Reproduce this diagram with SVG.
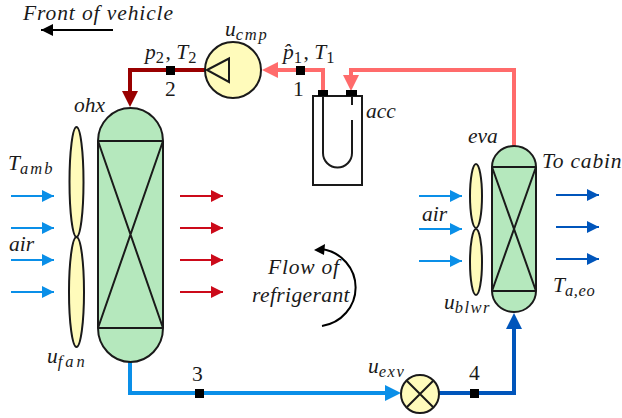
<svg xmlns="http://www.w3.org/2000/svg" width="622" height="418" viewBox="0 0 622 418">
<style>
text{font-family:"Liberation Serif","Times New Roman",serif;font-style:italic;font-size:21.5px;fill:#1a1a1a}
.n{font-style:normal}
.s{font-size:16.500px;letter-spacing:1.500px}
.o{stroke:#1a1a1a;stroke-width:2;fill:none}
.hx{fill:#b5e8bd;stroke:#1a1a1a;stroke-width:2}
.y{fill:#fffbbb;stroke:#1a1a1a;stroke-width:2}
.pipe{fill:none;stroke-width:4}
.thin{stroke-width:2;fill:none}
</style>
<defs>
<marker id="ab" markerUnits="userSpaceOnUse" markerWidth="12" markerHeight="12" refX="12" refY="6" orient="auto"><path d="M0 0L12 6L0 12Z" fill="#0a8fe8"/></marker>
<marker id="ar" markerUnits="userSpaceOnUse" markerWidth="12" markerHeight="12" refX="12" refY="6" orient="auto"><path d="M0 0L12 6L0 12Z" fill="#cc0a1a"/></marker>
<marker id="ad" markerUnits="userSpaceOnUse" markerWidth="12" markerHeight="12" refX="12" refY="6" orient="auto"><path d="M0 0L12 6L0 12Z" fill="#0055bb"/></marker>
<marker id="ak" markerUnits="userSpaceOnUse" markerWidth="12" markerHeight="12" refX="12" refY="6" orient="auto"><path d="M0 0L12 6L0 12Z" fill="#000"/></marker>
</defs>
<g id="connectors">
<path class="pipe" d="M207 70H130V92" stroke="#990000"/>
<path d="M122 91H138L130 107Z" fill="#990000"/>
<path class="pipe" d="M278 70H323V94" stroke="#ff6b6b"/>
<path d="M278 62V78L262 70Z" fill="#ff6b6b"/>
<path class="pipe" d="M514 146V70H351V76" stroke="#ff6b6b"/>
<path d="M343 75H359L351 91Z" fill="#ff6b6b"/>
<path class="pipe" d="M130 362V393H386" stroke="#0a8fe8"/>
<path d="M385 385V401L401 393Z" fill="#0a8fe8"/>
<path class="pipe" d="M439 393H514V328" stroke="#0055bb"/>
<path d="M506 329H522L514 313Z" fill="#0055bb"/>
<g fill="#000">
<rect x="166" y="66" width="9" height="9"/><rect x="296" y="66" width="9" height="9"/>
<rect x="195" y="389" width="9" height="9"/><rect x="470" y="389" width="9" height="9"/>
</g>
<g class="thin" stroke="#0a8fe8">
<path d="M11 196H54" marker-end="url(#ab)"/><path d="M11 228H54" marker-end="url(#ab)"/><path d="M11 260H54" marker-end="url(#ab)"/><path d="M11 292H54" marker-end="url(#ab)"/>
<path d="M419 196H462" marker-end="url(#ab)"/><path d="M419 229H462" marker-end="url(#ab)"/><path d="M419 261H462" marker-end="url(#ab)"/>
</g>
<g class="thin" stroke="#cc0a1a">
<path d="M180 196H223" marker-end="url(#ar)"/><path d="M180 228H223" marker-end="url(#ar)"/><path d="M180 260H223" marker-end="url(#ar)"/><path d="M180 292H223" marker-end="url(#ar)"/>
</g>
<g class="thin" stroke="#0055bb">
<path d="M556 195H599" marker-end="url(#ad)"/><path d="M556 227H599" marker-end="url(#ad)"/><path d="M556 259H599" marker-end="url(#ad)"/>
</g>
<path d="M113 30H41" stroke="#000" stroke-width="2" fill="none" marker-end="url(#ak)"/>
<path d="M322 326A40 39 0 0 0 322 249" stroke="#000" stroke-width="2" fill="none"/>
<path d="M314 250L325 244L324 255Z" fill="#000"/>
</g>
<g id="ohx">
<path class="hx" d="M98 141A32.500 33 0 0 1 130.500 108A32.500 33 0 0 1 163 141V328A32.500 34 0 0 1 130.500 362A32.500 34 0 0 1 98 328Z"/>
<path class="o" d="M98 141H163M98 328H163M98 141L163 328M163 141L98 328"/>
<text x="74" y="112">ohx</text>
</g>
<g id="fan">
<ellipse class="y" cx="76.500" cy="182" rx="7" ry="55"/>
<ellipse class="y" cx="76.500" cy="292" rx="7.500" ry="55"/>
<text x="47" y="363">u<tspan class="s" dy="4" style="letter-spacing:3px">fan</tspan></text>
</g>
<g id="compressor">
<circle class="y" cx="233" cy="70" r="28"/>
<path class="o" d="M207 70L229 58.500V82Z"/>
<text x="225" y="36">u<tspan class="s" dy="4" style="letter-spacing:1.800px">cmp</tspan></text>
</g>
<g id="accumulator">
<rect x="313" y="96" width="49" height="89" fill="#fff" stroke="#1a1a1a" stroke-width="2"/>
<rect x="318" y="90" width="10" height="6" fill="#000"/><rect x="346" y="90" width="11" height="6" fill="#000"/>
<path class="o" d="M323 96V153A14.500 14.500 0 0 0 352 153V120M352 96V105"/>
<text x="366" y="118">acc</text>
</g>
<g id="evaporator">
<path class="hx" d="M492 167A22 21 0 0 1 514 146A22 21 0 0 1 536 167V291A22 21 0 0 1 514 312A22 21 0 0 1 492 291Z"/>
<path class="o" d="M492 167H536M492 291H536M492 167L536 291M536 167L492 291"/>
<text x="468" y="143">eva</text>
</g>
<g id="blower">
<ellipse class="y" cx="476" cy="196" rx="6" ry="32"/>
<ellipse class="y" cx="476" cy="262" rx="6" ry="33"/>
<text x="444" y="309">u<tspan class="s" dy="4">blwr</tspan></text>
</g>
<g id="valve">
<circle class="y" cx="420" cy="394" r="19"/>
<path class="o" d="M407 381L433 407M433 381L407 407"/>
<text x="368" y="373">u<tspan class="s" dy="4">exv</tspan></text>
</g>
<g id="labels">
<text x="23" y="20" letter-spacing="0.900">Front of vehicle</text>
<text x="8" y="170">T<tspan class="s" dy="4" style="letter-spacing:2px">amb</tspan></text>
<text x="9" y="251">air</text>
<text x="422" y="221">air</text>
<text x="542" y="168" letter-spacing="0.800">To cabin</text>
<text x="553" y="292">T<tspan class="s" dy="4" style="letter-spacing:0.600px">a,eo</tspan></text>
<text x="145" y="59">p<tspan class="s n" dy="4">2</tspan><tspan class="n" dy="-4">, </tspan>T<tspan class="s n" dy="4">2</tspan></text>
<text x="283" y="59">p̂<tspan class="s n" dy="4">1</tspan><tspan class="n" dy="-4">, </tspan>T<tspan class="s n" dy="4">1</tspan></text>
<text class="n" x="165" y="96">2</text>
<text class="n" x="293" y="96">1</text>
<text class="n" x="192" y="381">3</text>
<text class="n" x="469" y="380">4</text>
<text x="268" y="274" letter-spacing="0.800">Flow of</text>
<text x="252" y="302" letter-spacing="0.400">refrigerant</text>
</g>
</svg>
